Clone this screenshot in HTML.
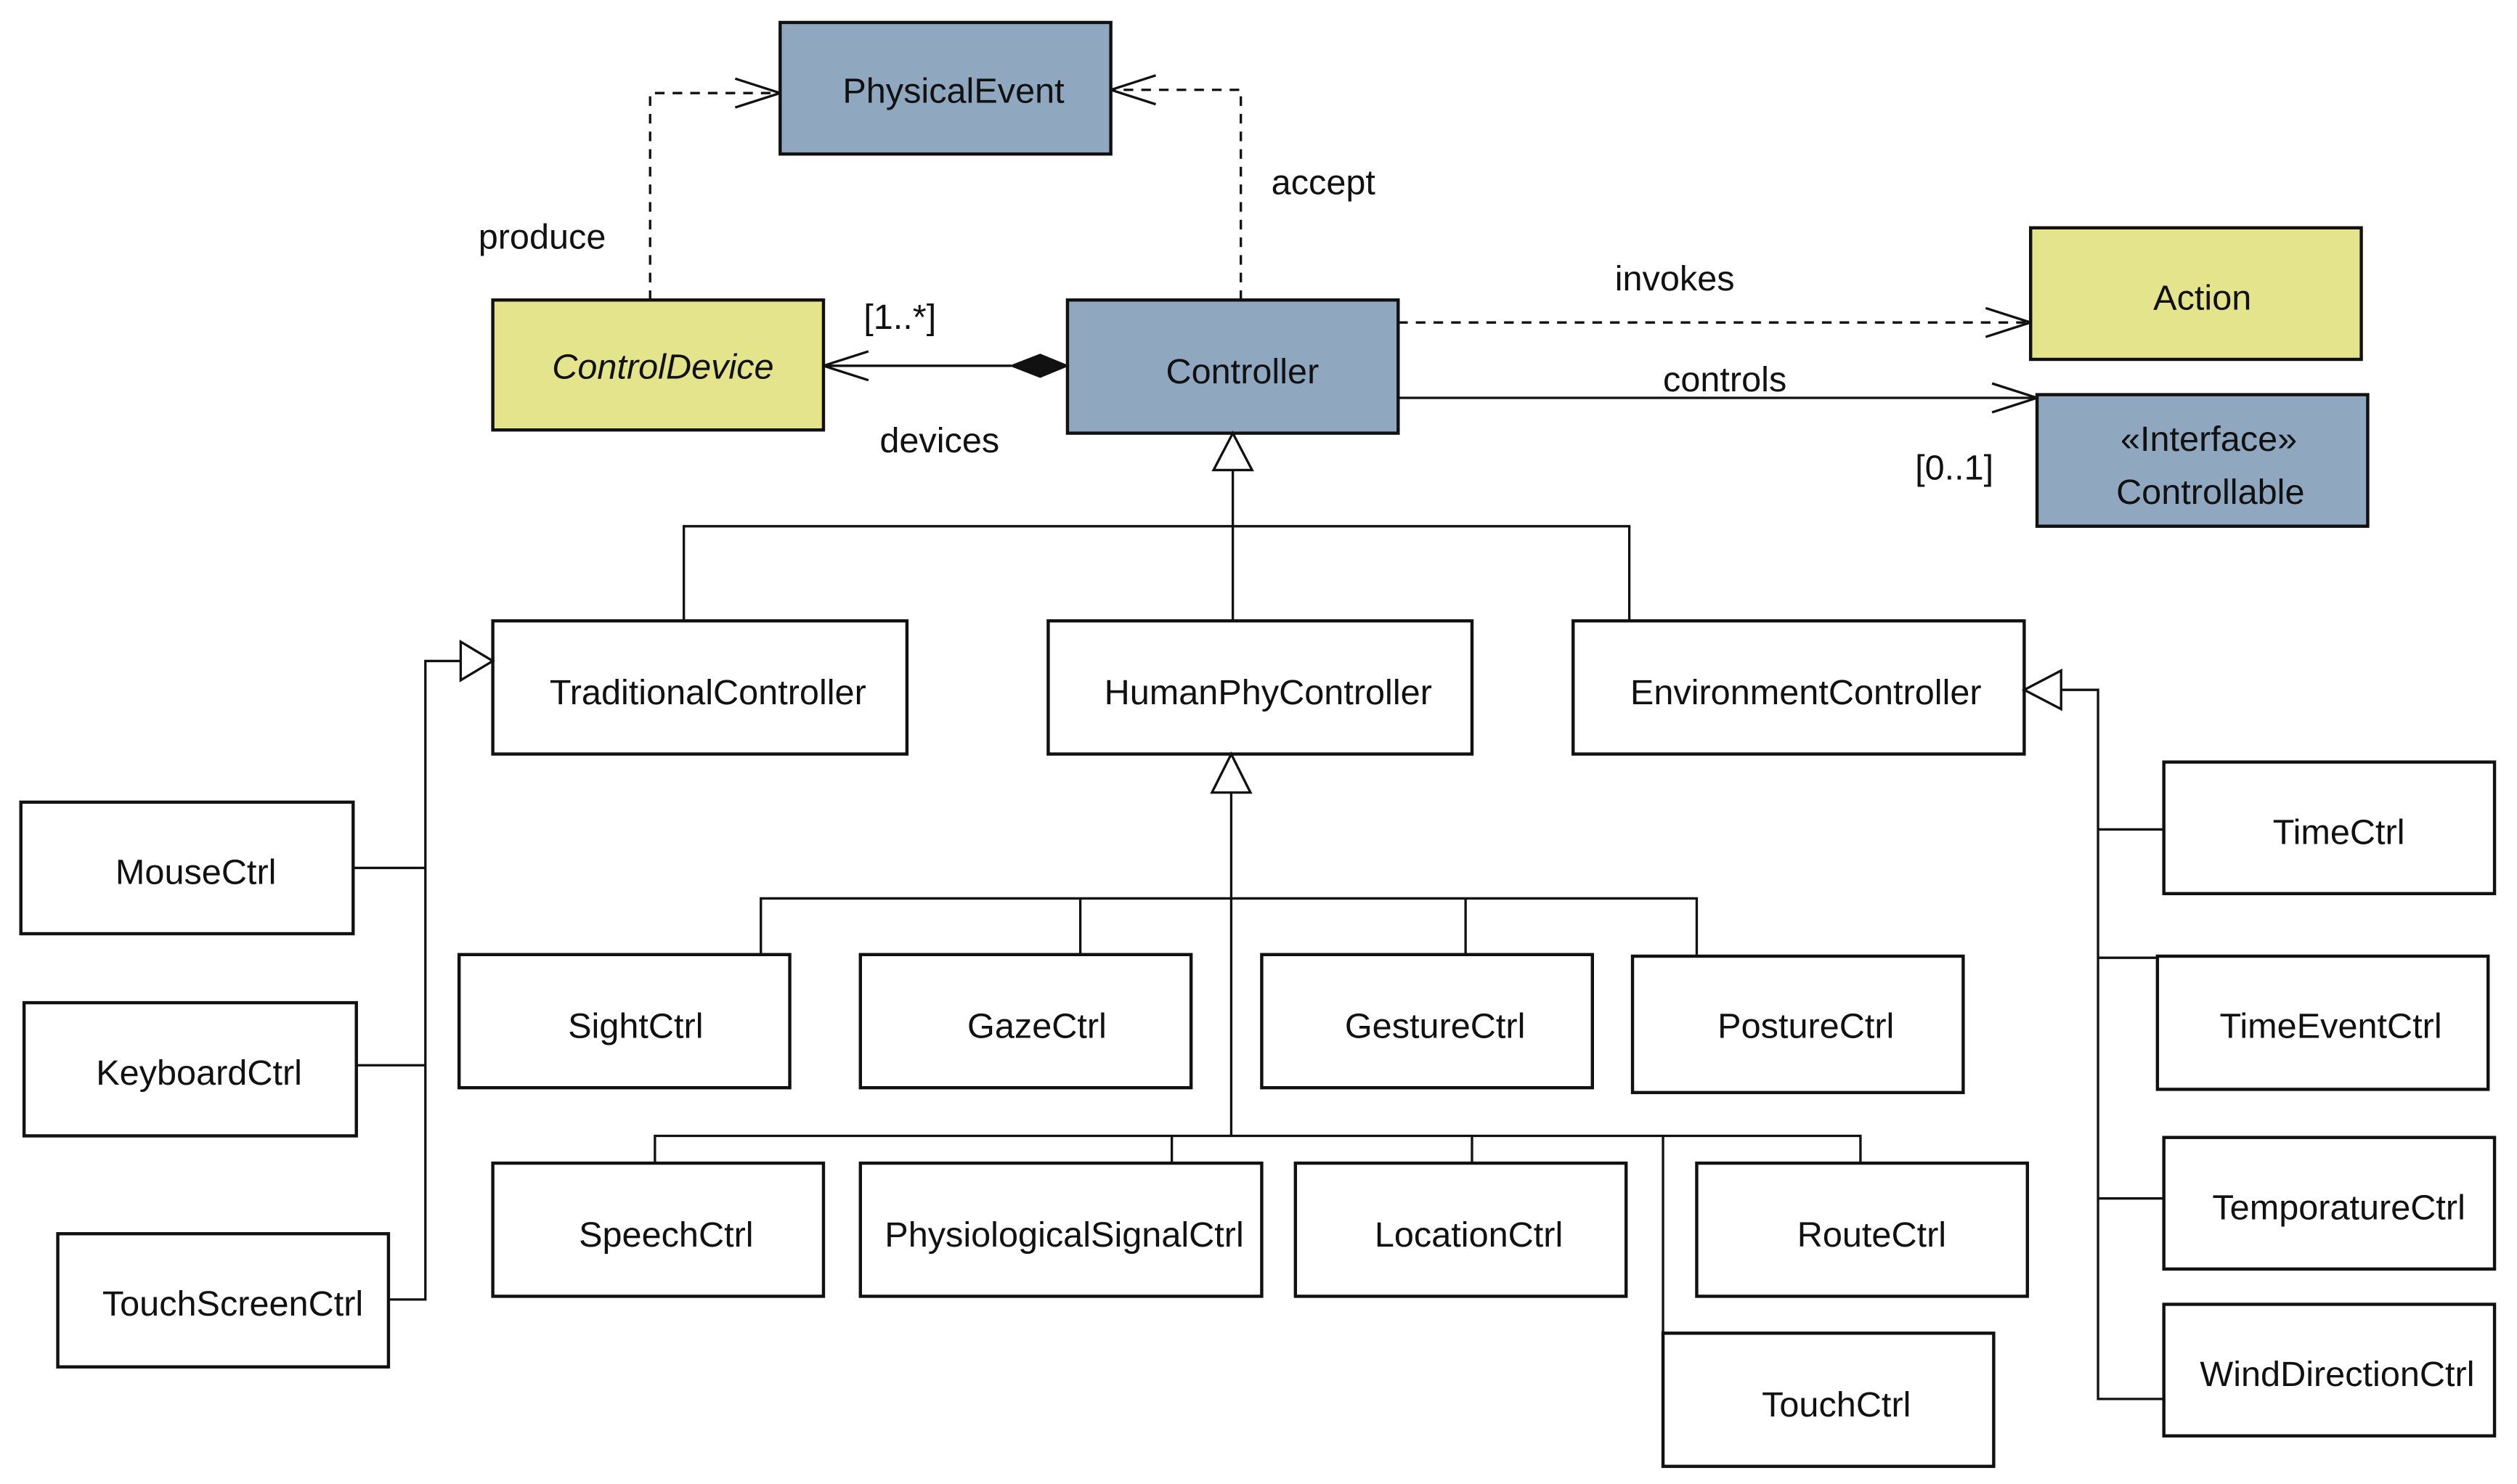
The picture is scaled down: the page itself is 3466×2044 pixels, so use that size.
<!DOCTYPE html>
<html><head><meta charset="utf-8"><style>
html,body{margin:0;padding:0;background:#fff;}
svg{display:block;}
text{font-family:"Liberation Sans","DejaVu Sans",sans-serif;font-size:22px;fill:#111;}
</style></head><body>
<svg width="3466" height="2044" viewBox="0 0 1568 925" preserveAspectRatio="none" xmlns="http://www.w3.org/2000/svg">
<defs>
<marker id="oa" markerWidth="30" markerHeight="20" refX="29" refY="10" orient="auto" markerUnits="userSpaceOnUse">
<path d="M1,1 L29,10 L1,19" fill="none" stroke="#111" stroke-width="1.5"/></marker>
</defs>
<g stroke="#111" stroke-width="2">
<rect x="486" y="14" width="206" height="82" fill="#8fa7bf"/>
<rect x="307" y="187" width="206" height="81" fill="#e4e48c"/>
<rect x="665" y="187" width="206" height="83" fill="#8fa7bf"/>
<rect x="1265" y="142" width="206" height="82" fill="#e4e48c"/>
<rect x="1269" y="246" width="206" height="82" fill="#8fa7bf"/>
<g fill="#fff">
<rect x="307" y="387" width="258" height="83"/>
<rect x="653" y="387" width="264" height="83"/>
<rect x="980" y="387" width="281" height="83"/>
<rect x="13" y="500" width="207" height="82"/>
<rect x="15" y="625" width="207" height="83"/>
<rect x="36" y="769" width="206" height="83"/>
<rect x="286" y="595" width="206" height="83"/>
<rect x="536" y="595" width="206" height="83"/>
<rect x="786" y="595" width="206" height="83"/>
<rect x="1017" y="596" width="206" height="85"/>
<rect x="307" y="725" width="206" height="83"/>
<rect x="536" y="725" width="250" height="83"/>
<rect x="807" y="725" width="206" height="83"/>
<rect x="1057" y="725" width="206" height="83"/>
<rect x="1036" y="831" width="206" height="83"/>
<rect x="1348" y="475" width="206" height="82"/>
<rect x="1344" y="596" width="206" height="83"/>
<rect x="1348" y="709" width="206" height="82"/>
<rect x="1348" y="813" width="206" height="82"/>
</g>
<g fill="none" stroke-width="1.5">
<path d="M405,187 V58 H486" stroke-dasharray="6,5" marker-end="url(#oa)"/>
<path d="M773,187 V56 H692" stroke-dasharray="6,5" marker-end="url(#oa)"/>
<path d="M871,201 H1265" stroke-dasharray="6,5" marker-end="url(#oa)"/>
<path d="M871,248 H1269" marker-end="url(#oa)"/>
<path d="M630,228 H513" marker-end="url(#oa)"/>
<path d="M768,293 V387 M426,387 V328 H1015 V387"/>
<path d="M767,494 V708 M474,595 V560 H1057 V595 M673,560 V595 M913,560 V595"/>
<path d="M408,725 V708 H1159 V725 M730,708 V725 M917,708 V725 M1036,708 V831"/>
<path d="M287,412 H265 V810 H242 M220,541 H265 M222,664 H265"/>
<path d="M1284,430 H1307 V872 H1348 M1307,517 H1348 M1307,597 H1344 M1307,747 H1348"/>
</g>
<path d="M665,228 L648,221 L630,228 L648,235 Z" fill="#111" stroke-width="1"/>
<path d="M768,270 L756,293 L780,293 Z" fill="#fff" stroke-width="1.5"/>
<path d="M767,470 L755,494 L779,494 Z" fill="#fff" stroke-width="1.5"/>
<path d="M307,412 L287,400 L287,424 Z" fill="#fff" stroke-width="1.5"/>
<path d="M1261,430 L1284,418 L1284,442 Z" fill="#fff" stroke-width="1.5"/>
</g>
<g text-anchor="middle">
<text x="594" y="64">PhysicalEvent</text>
<text x="413" y="236" font-style="italic">ControlDevice</text>
<text x="774" y="239">Controller</text>
<text x="1372" y="193">Action</text>
<text x="1376" y="281">«Interface»</text>
<text x="1377" y="314">Controllable</text>
<text x="441" y="439">TraditionalController</text>
<text x="790" y="439">HumanPhyController</text>
<text x="1125" y="439">EnvironmentController</text>
<text x="122" y="551">MouseCtrl</text>
<text x="124" y="676">KeyboardCtrl</text>
<text x="145" y="820">TouchScreenCtrl</text>
<text x="396" y="647">SightCtrl</text>
<text x="646" y="647">GazeCtrl</text>
<text x="894" y="647">GestureCtrl</text>
<text x="1125" y="647">PostureCtrl</text>
<text x="415" y="777">SpeechCtrl</text>
<text x="663" y="777">PhysiologicalSignalCtrl</text>
<text x="915" y="777">LocationCtrl</text>
<text x="1166" y="777">RouteCtrl</text>
<text x="1144" y="883">TouchCtrl</text>
<text x="1457" y="526">TimeCtrl</text>
<text x="1452" y="647">TimeEventCtrl</text>
<text x="1457" y="760">TemporatureCtrl</text>
<text x="1456" y="864">WindDirectionCtrl</text>
</g>
<text x="298" y="155">produce</text>
<text x="792" y="121">accept</text>
<text x="538" y="205">[1..*]</text>
<text x="548" y="282">devices</text>
<text x="1006" y="181">invokes</text>
<text x="1036" y="244">controls</text>
<text x="1193" y="299">[0..1]</text>
</svg>
</body></html>
